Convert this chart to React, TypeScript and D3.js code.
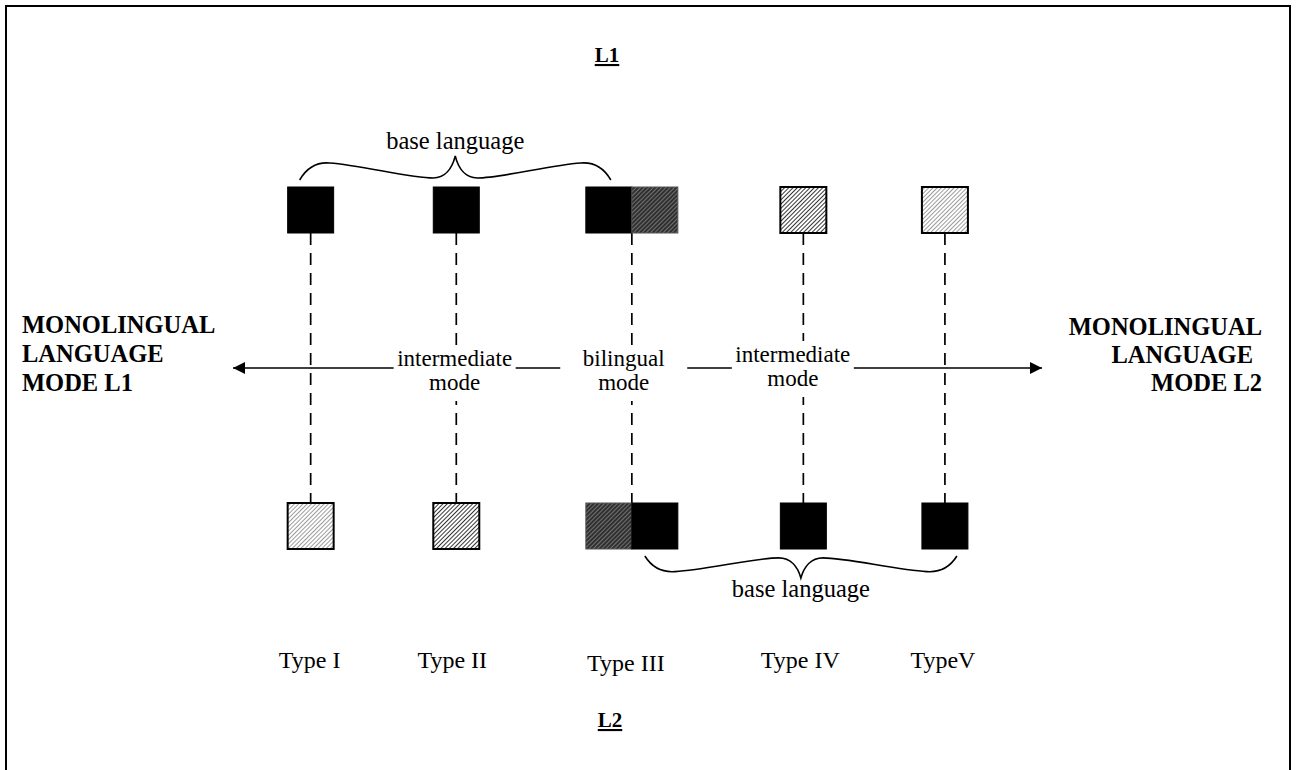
import * as d3 from 'd3'

// Code-switching continuum: types of speakers along the L1 -> L2 language mode axis
const TYPES = ['Type I', 'Type II', 'Type III', 'Type IV', 'TypeV']
// position of each type on the continuum (0 = monolingual L1, 100 = monolingual L2)
const CONTINUUM = [9.6, 27.6, 49.3, 70.5, 88.0]
// activation of L1 (top row) and L2 (bottom row) for each type
const L1_FILL = [['solid'], ['solid'], ['solid', 'dark'], ['medium'], ['light']]
const L2_FILL = [['light'], ['medium'], ['dark', 'solid'], ['solid'], ['solid']]

const MODE_LABELS = [['intermediate', 'mode'], ['bilingual', 'mode'], ['intermediate', 'mode']]
const MODE_AT = [27.4, 48.3, 69.2]

const FONT = '"Liberation Serif", "Times New Roman", serif'
const SQ = 46
const TOP_Y = 187
const BOT_Y = 503
const AXIS_Y = 368

const x = d3.scaleLinear().domain([0, 100]).range([233, 1042])

const fillOf = (f: string) => (f === 'solid' ? '#000' : `url(#hatch-${f})`)

// curly brace between x0 and x1, tips at y, cusp pointing dir (-1 up, 1 down)
function bracePath(x0: number, x1: number, y: number, depth: number, dir: number) {
  const w = (x1 - x0) / 2
  const sx = (v: number) => x0 + (v / 155) * w
  const rx = (v: number) => x1 - (v / 155) * w
  const sy = (v: number) => y + dir * (v / 24) * depth
  const p = d3.path()
  p.moveTo(sx(0), sy(0))
  p.bezierCurveTo(sx(8), sy(14), sx(18), sy(18), sx(30), sy(17))
  p.bezierCurveTo(sx(60), sy(15), sx(110), sy(2), sx(133), sy(2))
  p.bezierCurveTo(sx(145), sy(2), sx(152), sy(12), sx(155), sy(24))
  p.bezierCurveTo(rx(152), sy(12), rx(145), sy(2), rx(133), sy(2))
  p.bezierCurveTo(rx(110), sy(2), rx(60), sy(15), rx(30), sy(17))
  p.bezierCurveTo(rx(18), sy(18), rx(8), sy(14), rx(0), sy(0))
  return p.toString()
}

function Squares({ fills, cx, y }: { fills: string[]; cx: number; y: number }) {
  const xs = fills.length === 1 ? [cx - SQ / 2] : [cx - SQ, cx]
  return (
    <g>
      {fills.map((f, i) => (
        <rect
          key={i}
          x={xs[i]}
          y={y}
          width={SQ}
          height={SQ}
          fill={fillOf(f)}
          stroke={f === 'dark' ? '#555' : '#000'}
          strokeWidth={f === 'solid' || f === 'dark' ? 1 : 2}
        />
      ))}
    </g>
  )
}

export default function App() {
  const xs = CONTINUUM.map(v => x(v))
  const modeBoxes = MODE_AT.map((v, i) => {
    const w = i === 1 ? 127 : 122
    return { cx: x(v), w, dy: i === 2 ? -4 : 0 }
  })
  const typeDx = [-1, -4, -6, -3, -2]

  return (
    <svg
      width={1296}
      height={770}
      style={{ position: 'absolute', left: 0, top: 0, background: '#fff' }}
      fontFamily={FONT}
    >
      <defs>
        <pattern id="hatch-light" width={3} height={3} patternUnits="userSpaceOnUse" patternTransform="rotate(45)">
          <rect width={3} height={3} fill="#fff" />
          <line x1={0} y1={0} x2={0} y2={3} stroke="#666" strokeWidth={1.3} />
        </pattern>
        <pattern id="hatch-medium" width={3} height={3} patternUnits="userSpaceOnUse" patternTransform="rotate(45)">
          <rect width={3} height={3} fill="#fff" />
          <line x1={0} y1={0} x2={0} y2={3} stroke="#111" strokeWidth={1.7} />
        </pattern>
        <pattern id="hatch-dark" width={3} height={3} patternUnits="userSpaceOnUse" patternTransform="rotate(45)">
          <rect width={3} height={3} fill="#303030" />
          <line x1={0} y1={0} x2={0} y2={3} stroke="#a8a8a8" strokeWidth={1.1} />
        </pattern>
        <marker id="arrow" viewBox="0 0 10 10" refX={10} refY={5} markerWidth={15} markerHeight={12} markerUnits="userSpaceOnUse" orient="auto-start-reverse">
          <path d="M0,0 L10,5 L0,10 Z" fill="#000" />
        </marker>
      </defs>

      {/* frame */}
      <rect x={6} y={6} width={1284} height={800} fill="none" stroke="#000" strokeWidth={2} />

      <text x={607} y={62} textAnchor="middle" fontSize={21} fontWeight="bold" textDecoration="underline">L1</text>
      <text x={610} y={727} textAnchor="middle" fontSize={21} fontWeight="bold" textDecoration="underline">L2</text>

      {/* continuum axis */}
      <line x1={x(0)} x2={x(100)} y1={AXIS_Y} y2={AXIS_Y} stroke="#000" strokeWidth={1.5}
        markerStart="url(#arrow)" markerEnd="url(#arrow)" />

      {/* dashed links between L1 and L2 */}
      {xs.map((cx, i) => (
        <line key={i} x1={cx} x2={cx} y1={TOP_Y + SQ} y2={BOT_Y} stroke="#000" strokeWidth={1.7} strokeDasharray="12,8" />
      ))}

      {/* mode labels with white boxes */}
      {modeBoxes.map((b, i) => (
        <g key={i}>
          <rect x={b.cx - b.w / 2} y={345 + b.dy} width={b.w} height={56} fill="#fff" />
          {MODE_LABELS[i].map((t, j) => (
            <text key={j} x={b.cx} y={366 + b.dy + j * 24} textAnchor="middle" fontSize={23}>{t}</text>
          ))}
        </g>
      ))}

      {/* squares */}
      {xs.map((cx, i) => (
        <g key={i}>
          <Squares fills={L1_FILL[i]} cx={cx} y={TOP_Y} />
          <Squares fills={L2_FILL[i]} cx={cx} y={BOT_Y} />
        </g>
      ))}

      {/* base language braces */}
      <path d={bracePath(xs[0] - 11, xs[2] - 21, 180, 24, -1)} fill="none" stroke="#000" strokeWidth={1.6} />
      <text x={(xs[0] - 11 + xs[2] - 21) / 2} y={149} textAnchor="middle" fontSize={24.5}>base language</text>
      <path d={bracePath(xs[2] + 13, xs[4] + 12, 556, 22, 1)} fill="none" stroke="#000" strokeWidth={1.6} />
      <text x={(xs[2] + 13 + xs[4] + 12) / 2} y={597} textAnchor="middle" fontSize={24.5}>base language</text>

      {/* monolingual ends */}
      {['MONOLINGUAL', 'LANGUAGE', 'MODE L1'].map((t, j) => (
        <text key={j} x={22} y={333 + j * 29} fontSize={24.5} fontWeight="bold">{t}</text>
      ))}
      {['MONOLINGUAL', 'LANGUAGE', 'MODE L2'].map((t, j) => (
        <text key={j} x={j === 1 ? 1253 : 1262} y={335 + j * 28} fontSize={24.5} fontWeight="bold" textAnchor="end">{t}</text>
      ))}

      {/* type labels */}
      {TYPES.map((t, i) => (
        <text key={t} x={xs[i] + typeDx[i]} y={i === 2 ? 671 : 668} textAnchor="middle" fontSize={24}>{t}</text>
      ))}
    </svg>
  )
}
